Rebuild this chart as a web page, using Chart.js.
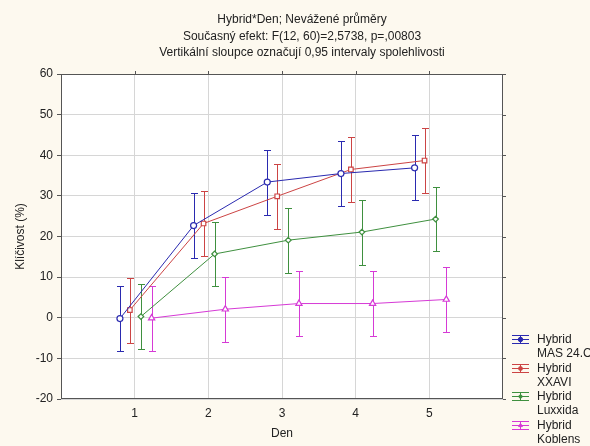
<!DOCTYPE html>
<html>
<head>
<meta charset="utf-8">
<script src="https://cdn.jsdelivr.net/npm/chart.js@4"></script>
<style>
  body { margin: 0; background: #fdf9ef; }
  #wrap { width: 590px; height: 446px; }
</style>
</head>
<body>
<div id="wrap"><canvas id="myChart"></canvas></div>
<script>
// days and group means of germination (%), with 0.95 confidence half-widths
const days = [1, 2, 3, 4, 5];
const masMeans = [-0.2, 22.7, 33.4, 35.5, 36.9];
const xxaviMeans = [1.9, 23.2, 29.9, 36.5, 38.7];
const luxxidaMeans = [0.3, 15.7, 19.1, 21.1, 24.3];
const koblensMeans = [-0.1, 2.1, 3.5, 3.5, 4.5];
const masErr = [8.0, 8.0, 8.0, 7.9, 8.0];
const xxaviErr = [8.0, 7.9, 8.0, 8.0, 7.9];
const luxxidaErr = [8.0, 7.9, 8.0, 8.0, 7.9];
const koblensErr = [8.0, 8.0, 8.0, 8.0, 8.0];
const seriesNames = [['Hybrid', 'MAS 24.C'], ['Hybrid', 'XXAVI'], ['Hybrid', 'Luxxida'], ['Hybrid', 'Koblens']];
const yTicks = [-20, -10, 0, 10, 20, 30, 40, 50, 60];
const titleLines = [
    'Hybrid*Den; Nevážené průměry',
    'Současný efekt: F(12, 60)=2,5738, p=,00803',
    'Vertikální sloupce označují 0,95 intervaly spolehlivosti'
];

const FONT = '"Liberation Sans", Arial, sans-serif';
const colors = ['#2a2ab0', '#cc4444', '#3f903f', '#d63ad6'];
const shapes = ['circle', 'rect', 'rectRot', 'triangle'];
const radii = [3, 3.2, 2.8, 3.6];
// small sideways shift so the groups don't overlap
const shifts = [-0.2, -0.065, 0.085, 0.23];

const means = [masMeans, xxaviMeans, luxxidaMeans, koblensMeans];
const errs = [masErr, xxaviErr, luxxidaErr, koblensErr];

const datasets = means.map((m, i) => ({
    label: seriesNames[i].join(' '),
    data: days.map((d, j) => ({ x: d + shifts[i], y: m[j] })),
    showLine: true,
    borderColor: colors[i],
    backgroundColor: '#ffffff',
    borderWidth: 1,
    pointStyle: shapes[i],
    pointRadius: radii[i],
    pointHoverRadius: radii[i],
    pointBorderWidth: 1.2,
    pointBackgroundColor: '#ffffff'
}));

const plugin = {
    id: 'statPlot',
    beforeDraw: (chart) => {
        const ctx = chart.ctx;
        const a = chart.chartArea;
        ctx.save();
        ctx.fillStyle = '#fdf9ef';
        ctx.fillRect(0, 0, chart.width, chart.height);
        ctx.fillStyle = '#ffffff';
        ctx.fillRect(a.left, a.top, a.right - a.left, a.bottom - a.top);
        ctx.restore();
    },
    beforeDatasetsDraw: (chart) => {
        const ctx = chart.ctx;
        const xs = chart.scales.x, ys = chart.scales.y;
        ctx.save();
        means.forEach((m, i) => {
            ctx.strokeStyle = colors[i];
            ctx.lineWidth = 1;
            ctx.beginPath();
            days.forEach((d, j) => {
                const px = Math.round(xs.getPixelForValue(d + shifts[i])) + 0.5;
                const top = Math.round(ys.getPixelForValue(m[j] + errs[i][j])) + 0.5;
                const bot = Math.round(ys.getPixelForValue(m[j] - errs[i][j])) + 0.5;
                ctx.moveTo(px, top); ctx.lineTo(px, bot);
                ctx.moveTo(px - 3.5, top); ctx.lineTo(px + 3.5, top);
                ctx.moveTo(px - 3.5, bot); ctx.lineTo(px + 3.5, bot);
            });
            ctx.stroke();
        });
        ctx.restore();
    },
    afterDraw: (chart) => {
        const ctx = chart.ctx;
        const a = chart.chartArea;
        const xs = chart.scales.x, ys = chart.scales.y;
        ctx.save();
        // frame
        ctx.strokeStyle = '#555555';
        ctx.lineWidth = 1;
        ctx.strokeRect(Math.round(a.left) + 0.5, Math.round(a.top) + 0.5,
            Math.round(a.right - a.left) - 1, Math.round(a.bottom - a.top) - 1);
        // little outside ticks on top and right sides
        ctx.beginPath();
        days.forEach(d => {
            const px = Math.round(xs.getPixelForValue(d)) + 0.5;
            ctx.moveTo(px, a.top); ctx.lineTo(px, a.top - 3);
        });
        yTicks.forEach(v => {
            const py = Math.round(ys.getPixelForValue(v)) + 0.5;
            ctx.moveTo(a.right, py); ctx.lineTo(a.right + 3, py);
        });
        ctx.stroke();

        // title
        ctx.fillStyle = '#222222';
        ctx.font = '12px ' + FONT;
        ctx.textAlign = 'center';
        ctx.textBaseline = 'middle';
        titleLines.forEach((t, i) => ctx.fillText(t, 302, 20 + i * 16.5));

        // axis titles
        ctx.fillText('Den', (a.left + a.right) / 2, 434);
        ctx.save();
        ctx.translate(21, (a.top + a.bottom) / 2);
        ctx.rotate(-Math.PI / 2);
        ctx.fillText('Klíčivost (%)', 0, 0);
        ctx.restore();

        // legend with error bar icons
        ctx.textAlign = 'left';
        seriesNames.forEach((name, i) => {
            const cy = Math.round(339 + i * 28.7) + 0.5;
            const x0 = 512, x1 = 529, cx = 520.5;
            ctx.strokeStyle = colors[i];
            ctx.lineWidth = 1;
            ctx.beginPath();
            [-4, 0, 4].forEach(dy => {
                ctx.moveTo(x0, cy + dy); ctx.lineTo(x1, cy + dy);
            });
            ctx.moveTo(cx, cy - 4); ctx.lineTo(cx, cy + 4);
            ctx.stroke();
            ctx.fillStyle = colors[i];
            Chart.helpers.drawPoint(ctx, {
                pointStyle: shapes[i], radius: 2.2, borderWidth: 1
            }, cx, cy);
            ctx.fillStyle = '#222222';
            name.forEach((line, k) => ctx.fillText(line, 537, cy + k * 14.5));
        });
        ctx.restore();
    }
};

const ctx = document.getElementById('myChart').getContext('2d');
const myChart = new Chart(ctx, {
    type: 'scatter',
    data: { datasets: datasets },
    plugins: [plugin],
    options: {
        responsive: true,
        maintainAspectRatio: false,
        animation: false,
        layout: { padding: { left: 0, top: 74, right: 87, bottom: 0 } },
        plugins: {
            legend: { display: false },
            tooltip: { enabled: false }
        },
        scales: {
            x: {
                type: 'linear',
                min: 0,
                max: 6,
                afterFit: (scale) => { scale.height = 47; },
                border: { display: false },
                grid: {
                    drawTicks: false,
                    color: (c) => (c.tick && (c.tick.value === 0 || c.tick.value === 6)) ? 'rgba(0,0,0,0)' : '#d6d6d6'
                },
                ticks: {
                    stepSize: 1,
                    padding: 7,
                    color: '#222222',
                    font: { family: FONT, size: 12 },
                    callback: (v) => (v === 0 || v === 6) ? '' : v
                }
            },
            y: {
                min: -20,
                max: 60,
                afterFit: (scale) => { scale.width = 61; },
                border: { display: false },
                grid: {
                    color: '#d6d6d6',
                    tickColor: '#555555',
                    tickLength: 4
                },
                ticks: {
                    stepSize: 10,
                    padding: 4,
                    color: '#222222',
                    font: { family: FONT, size: 12 }
                }
            }
        }
    }
});
</script>
</body>
</html>
